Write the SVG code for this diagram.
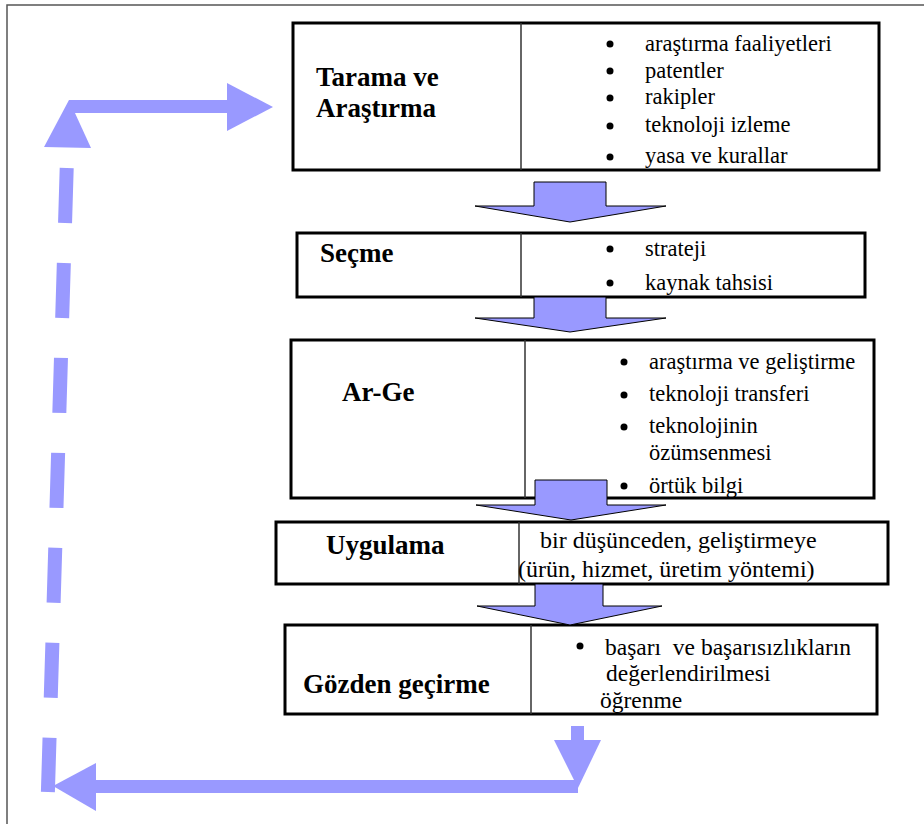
<svg xmlns="http://www.w3.org/2000/svg" width="924" height="824" viewBox="0 0 924 824">
<style>
.box{fill:#fff;stroke:#000;stroke-width:3}
.div{stroke:#333;stroke-width:1.5}
text{font-family:'Liberation Serif','Times New Roman',serif;fill:#000}
.lbl{font-weight:bold;font-size:27px}
.txt{font-size:22.5px}
.t4{font-size:24px}
.t5{font-size:23.5px}
.big{fill:#9999ff;stroke:#000;stroke-width:1}
.blue{fill:#9999ff}
</style>
<rect width="924" height="824" fill="#fff"/>
<path d="M7 824 V5 H924" fill="none" stroke="#555" stroke-width="1.5"/>

<g id="n1">
<rect class="box" x="293" y="23" width="586" height="147"/>
<line class="div" x1="521" y1="23" x2="521" y2="170"/>
<text class="lbl" x="316" y="86">Tarama ve</text>
<text class="lbl" x="316" y="117">Araştırma</text>
<circle cx="610" cy="44" r="3.5"/><text class="txt" x="645" y="51">araştırma faaliyetleri</text>
<circle cx="610" cy="71" r="3.5"/><text class="txt" x="645" y="78">patentler</text>
<circle cx="610" cy="98" r="3.5"/><text class="txt" x="645" y="104">rakipler</text>
<circle cx="610" cy="126" r="3.5"/><text class="txt" x="645" y="132">teknoloji izleme</text>
<circle cx="610" cy="157" r="3.5"/><text class="txt" x="645" y="163">yasa ve kurallar</text>
</g>

<g id="n2">
<rect class="box" x="297" y="233" width="568" height="64"/>
<line class="div" x1="521" y1="233" x2="521" y2="297"/>
<text class="lbl" x="320" y="262">Seçme</text>
<circle cx="610" cy="249" r="3.5"/><text class="txt" x="645" y="256">strateji</text>
<circle cx="610" cy="283" r="3.5"/><text class="txt" x="645" y="290">kaynak tahsisi</text>
</g>

<g id="n3">
<rect class="box" x="291" y="340" width="583" height="158"/>
<line class="div" x1="525" y1="340" x2="525" y2="498"/>
<text class="lbl" x="342" y="401">Ar-Ge</text>
<circle cx="624" cy="362" r="3.5"/><text class="txt" x="649" y="369">araştırma ve geliştirme</text>
<circle cx="624" cy="395" r="3.5"/><text class="txt" x="649" y="401">teknoloji transferi</text>
<circle cx="624" cy="427" r="3.5"/><text class="txt" x="649" y="433">teknolojinin</text>
<text class="txt" x="649" y="460">özümsenmesi</text>
<circle cx="624" cy="486" r="3.5"/><text class="txt" x="649" y="493">örtük bilgi</text>
</g>

<g id="n4">
<rect class="box" x="276" y="522" width="612" height="62"/>
<line class="div" x1="519" y1="522" x2="519" y2="584"/>
<text class="lbl" x="326" y="554">Uygulama</text>
<text class="t4" x="540" y="548">bir düşünceden, geliştirmeye</text>
<text class="t4" x="518" y="577">(ürün, hizmet, üretim yöntemi)</text>
</g>

<g id="n5">
<rect class="box" x="285" y="625" width="592" height="89"/>
<line class="div" x1="531" y1="625" x2="531" y2="714"/>
<text class="lbl" x="303" y="693">Gözden geçirme</text>
<circle cx="580" cy="646" r="3.5"/><text class="t5" x="605" y="655" xml:space="preserve">başarı  ve başarısızlıkların</text>
<text class="t5" x="606" y="681">değerlendirilmesi</text>
<text class="t5" x="600" y="708">öğrenme</text>
</g>

<g id="connectors">
<polygon class="big" points="534,182 606,182 606,206 666,206 570,222 475,206 534,206"/>
<polygon class="big" points="534,297 606,297 606,318 666,318 570,332 475,318 534,318"/>
<polygon class="big" points="535,480 607,480 607,505 666,505 571,520 476,505 535,505"/>
<polygon class="big" points="535,584 603,584 603,606 662,606 570,625 477,606 535,606"/>
<rect class="blue" x="571" y="726" width="13" height="15"/>
<polygon class="blue" points="554,740 601,740 578,788"/>
<rect class="blue" x="96" y="780" width="482" height="13"/>
<polygon class="blue" points="96,763 96,811 53,786"/>
<line x1="66.7" y1="168" x2="47.9" y2="792" stroke="#9999ff" stroke-width="14" stroke-dasharray="55 40"/>
<polygon class="blue" points="69,100 91,148 44,147"/>
<rect class="blue" x="69" y="100" width="159" height="13"/>
<polygon class="blue" points="227,83 273,107 227,131"/>
</g>
</svg>
